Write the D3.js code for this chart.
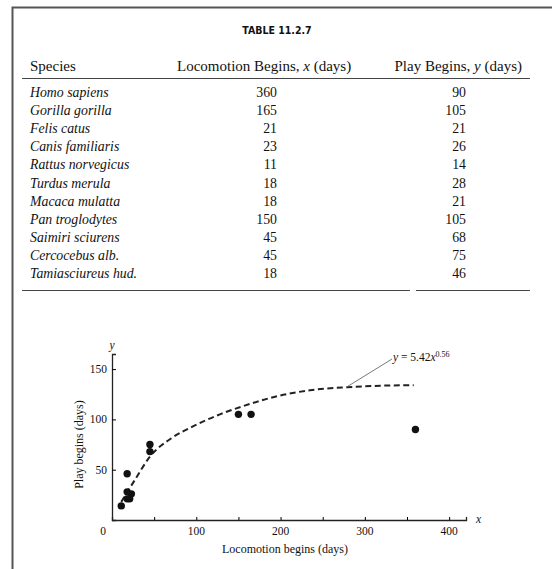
<!DOCTYPE html>
<html>
<head>
<meta charset="utf-8">
<script src="https://cdn.jsdelivr.net/npm/d3@7"></script>
<style>
  body { margin: 0; background: #fff; }
  svg text { font-family: "Liberation Serif", "Times New Roman", serif; fill: #111; }
</style>
</head>
<body>
<svg class="table-chart" width="552" height="569"></svg>
<script>
const species = ["Homo sapiens", "Gorilla gorilla", "Felis catus", "Canis familiaris",
  "Rattus norvegicus", "Turdus merula", "Macaca mulatta", "Pan troglodytes",
  "Saimiri sciurens", "Cercocebus alb.", "Tamiasciureus hud."];
const locomotion = [360, 165, 21, 23, 11, 18, 18, 150, 45, 45, 18];
const play = [90, 105, 21, 26, 14, 28, 21, 105, 68, 75, 46];

// dashed fit curve
const fitX = [11, 28, 45, 70, 96, 128, 155, 196, 235, 279, 320, 358];
const fitY = [18, 41, 63, 81, 93, 105, 113, 123, 129, 132, 133.5, 134];

const xTicks = [0, 50, 100, 150, 200, 250, 300, 350, 400];
const xLabels = [100, 200, 300, 400];
const yTicks = [50, 100, 150];

const svg = d3.select("svg.table-chart");

// page frame
svg.append("path")
    .attr("d", "M12.5,569 V7.5 H552")
    .attr("fill", "none")
    .attr("stroke", "#555")
    .attr("stroke-width", 2);

// ---- table ----
svg.append("text")
    .attr("x", 277).attr("y", 34)
    .attr("text-anchor", "middle")
    .style("font-family", "'DejaVu Sans Condensed', 'Liberation Sans', sans-serif")
    .style("font-weight", "bold")
    .style("font-size", "10.5px")
    .text("TABLE 11.2.7");

const head = svg.append("g").style("font-size", "15px");
head.append("text").attr("x", 30).attr("y", 71).text("Species");
const h1 = head.append("text").attr("x", 177).attr("y", 71);
h1.append("tspan").text("Locomotion Begins, ");
h1.append("tspan").style("font-style", "italic").text("x");
h1.append("tspan").text(" (days)");
const h2 = head.append("text").attr("x", 522).attr("y", 71).attr("text-anchor", "end");
h2.append("tspan").text("Play Begins, ");
h2.append("tspan").style("font-style", "italic").text("y");
h2.append("tspan").text(" (days)");

svg.append("line")
    .attr("x1", 22).attr("x2", 530).attr("y1", 78.5).attr("y2", 78.5)
    .attr("stroke", "#444").attr("stroke-width", 1.2);

const rowY = d3.scaleLinear().domain([0, species.length - 1]).range([97, 278]);

const rows = svg.append("g").selectAll("g")
    .data(species)
    .enter().append("g")
    .attr("transform", (d, i) => `translate(0, ${rowY(i)})`)
    .style("font-size", "13.8px");

rows.append("text").attr("x", 30).style("font-style", "italic").text(d => d);
rows.append("text").attr("x", 277).attr("text-anchor", "end").text((d, i) => locomotion[i]);
rows.append("text").attr("x", 466).attr("text-anchor", "end").text((d, i) => play[i]);

svg.append("path")
    .attr("d", "M22,290.5 H410 M416,290.5 H530")
    .attr("stroke", "#444").attr("stroke-width", 1.2);

// ---- chart ----
const x = d3.scaleLinear().domain([0, 420]).range([112, 466]);
const y = d3.scaleLinear().domain([0, 165]).range([520, 354]);

const g = svg.append("g");

g.append("g")
    .attr("transform", `translate(0, ${y(0)})`)
    .call(d3.axisBottom(x).tickValues(xTicks).tickSize(-3).tickFormat(""))
    .call(a => a.select(".domain").attr("stroke", "#222").attr("stroke-width", 1.3));

g.append("g")
    .attr("transform", `translate(${x(0)}, 0)`)
    .call(d3.axisLeft(y).tickValues(yTicks).tickSize(-4).tickFormat(""))
    .call(a => a.select(".domain").attr("stroke", "#222").attr("stroke-width", 1.3));

g.selectAll(".xlab")
    .data(xLabels)
    .enter().append("text")
    .attr("x", d => x(d)).attr("y", 535)
    .attr("text-anchor", "middle")
    .style("font-size", "11.5px")
    .text(d => d);

g.append("text").attr("x", x(0) - 9).attr("y", 535)
    .attr("text-anchor", "middle").style("font-size", "11.5px").text("0");

g.selectAll(".ylab")
    .data(yTicks)
    .enter().append("text")
    .attr("x", x(0) - 5).attr("y", d => y(d) + 4)
    .attr("text-anchor", "end")
    .style("font-size", "11.5px")
    .text(d => d);

g.append("text").attr("x", x(0)).attr("y", 349)
    .attr("text-anchor", "middle")
    .style("font-style", "italic").style("font-size", "11.5px").text("y");
g.append("text").attr("x", 476).attr("y", 523)
    .style("font-style", "italic").style("font-size", "11.5px").text("x");

g.append("text")
    .attr("x", 285).attr("y", 553)
    .attr("text-anchor", "middle")
    .style("font-size", "12px")
    .text("Locomotion begins (days)");

g.append("text")
    .attr("transform", `translate(83, ${y(75)}) rotate(-90)`)
    .attr("text-anchor", "middle")
    .style("font-size", "12px")
    .text("Play begins (days)");

// fit curve
const line = d3.line()
    .x((d, i) => x(fitX[i]))
    .y(d => y(d))
    .curve(d3.curveMonotoneX);

g.append("path")
    .datum(fitY)
    .attr("d", line)
    .attr("fill", "none")
    .attr("stroke", "#222")
    .attr("stroke-width", 2)
    .attr("stroke-dasharray", "6,3.5");

// leader + equation label
g.append("line")
    .attr("x1", x(280)).attr("y1", y(132) - 1)
    .attr("x2", 392).attr("y2", 359)
    .attr("stroke", "#555").attr("stroke-width", 0.8);

const eq = g.append("text").attr("x", 393).attr("y", 361).style("font-size", "11.5px");
eq.append("tspan").style("font-style", "italic").text("y");
eq.append("tspan").text(" = 5.42");
eq.append("tspan").style("font-style", "italic").text("x");
eq.append("tspan").attr("dy", -4).style("font-size", "8px").text("0.56");

// points
g.selectAll(".dot")
    .data(species)
    .enter().append("circle")
    .attr("class", "dot")
    .attr("cx", (d, i) => x(locomotion[i]))
    .attr("cy", (d, i) => y(play[i]))
    .attr("r", 3.7)
    .attr("fill", "#111");
</script>
</body>
</html>
